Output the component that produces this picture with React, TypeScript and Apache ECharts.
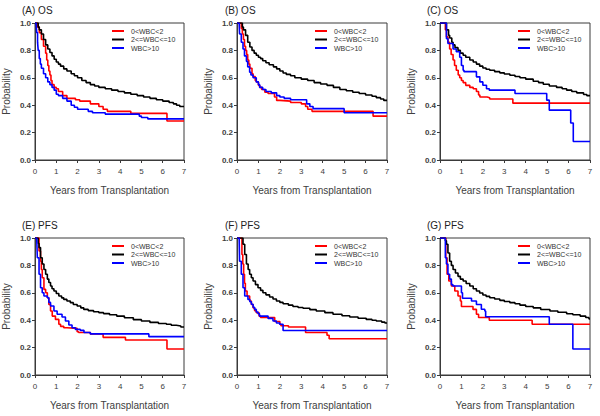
import React, { useEffect, useRef } from "react";
import * as echarts from "echarts";

type Pt = [number, number];

const seriesNames = ["0<WBC<2", "2<=WBC<=10", "WBC>10"];
const seriesColors = ["#ff0000", "#000000", "#0000ff"];
const panelTitles = ["(A) OS", "(B) OS", "(C) OS", "(E) PFS", "(F) PFS", "(G) PFS"];
const xTicks = [0, 1, 2, 3, 4, 5, 6, 7];
const yTicks = [0, 0.2, 0.4, 0.6, 0.8, 1.0];

const aRed: Pt[] = [[0,1],[0.12,0.97],[0.2,0.93],[0.3,0.88],[0.4,0.83],[0.5,0.78],[0.55,0.73],[0.6,0.69],[0.65,0.65],[0.7,0.62],[0.75,0.58],[0.8,0.55],[0.9,0.53],[1.0,0.52],[1.1,0.5],[1.3,0.47],[1.5,0.45],[1.9,0.44],[2.1,0.43],[2.6,0.41],[3.0,0.39],[3.2,0.37],[3.4,0.355],[4.5,0.34],[6.2,0.285],[7,0.285]];
const aBlack: Pt[] = [[0,1],[0.1,1],[0.15,0.97],[0.2,0.95],[0.3,0.92],[0.4,0.88],[0.5,0.84],[0.6,0.81],[0.7,0.785],[0.8,0.76],[0.9,0.735],[1.0,0.715],[1.1,0.7],[1.2,0.685],[1.35,0.665],[1.5,0.65],[1.7,0.63],[1.85,0.615],[2.0,0.6],[2.2,0.58],[2.4,0.565],[2.6,0.55],[2.8,0.54],[3.0,0.53],[3.3,0.52],[3.6,0.51],[3.9,0.5],[4.2,0.49],[4.5,0.48],[4.8,0.47],[5.1,0.46],[5.4,0.45],[5.7,0.44],[6.0,0.43],[6.3,0.42],[6.5,0.41],[6.65,0.4],[6.8,0.39],[7,0.39]];
const aBlue: Pt[] = [[0,1],[0.05,1],[0.08,0.93],[0.12,0.86],[0.15,0.8],[0.2,0.74],[0.25,0.7],[0.3,0.67],[0.4,0.63],[0.5,0.6],[0.6,0.57],[0.7,0.55],[0.8,0.53],[0.9,0.51],[1.0,0.48],[1.1,0.47],[1.3,0.45],[1.5,0.43],[1.7,0.4],[1.85,0.385],[2.0,0.37],[2.5,0.355],[2.7,0.345],[3.3,0.335],[4.9,0.32],[5.0,0.31],[5.3,0.3],[7,0.3]];

const bRed: Pt[] = [[0,1],[0.15,1],[0.2,0.96],[0.25,0.92],[0.3,0.88],[0.35,0.83],[0.4,0.8],[0.45,0.77],[0.5,0.73],[0.55,0.7],[0.6,0.67],[0.7,0.63],[0.75,0.61],[0.85,0.58],[0.9,0.57],[1.0,0.545],[1.06,0.53],[1.15,0.515],[1.3,0.495],[1.45,0.485],[1.75,0.46],[1.85,0.435],[2.0,0.43],[2.5,0.42],[3.0,0.41],[3.2,0.39],[3.3,0.37],[3.5,0.355],[6.35,0.32],[7,0.32]];
const bBlack: Pt[] = [[0,1],[0.2,1],[0.25,0.97],[0.3,0.95],[0.4,0.91],[0.5,0.86],[0.6,0.825],[0.7,0.8],[0.8,0.78],[0.9,0.765],[1.0,0.75],[1.1,0.74],[1.2,0.725],[1.35,0.71],[1.5,0.695],[1.7,0.68],[1.85,0.665],[2.0,0.65],[2.15,0.635],[2.3,0.625],[2.5,0.615],[2.7,0.6],[3.0,0.59],[3.3,0.58],[3.6,0.565],[3.9,0.555],[4.2,0.545],[4.5,0.53],[4.8,0.515],[5.1,0.505],[5.4,0.495],[5.7,0.485],[6.0,0.475],[6.3,0.465],[6.5,0.455],[6.7,0.445],[6.85,0.435],[7,0.435]];
const bBlue: Pt[] = [[0,1],[0.1,1],[0.12,0.92],[0.2,0.86],[0.28,0.81],[0.35,0.76],[0.44,0.72],[0.5,0.68],[0.59,0.64],[0.65,0.62],[0.75,0.6],[0.9,0.57],[1.0,0.55],[1.06,0.53],[1.2,0.515],[1.35,0.5],[1.6,0.49],[1.85,0.47],[2.0,0.46],[2.2,0.45],[2.5,0.44],[3.25,0.41],[3.4,0.39],[3.55,0.375],[5.0,0.345],[7,0.345]];

const cRed: Pt[] = [[0,1],[0.2,1],[0.25,0.95],[0.3,0.9],[0.37,0.86],[0.45,0.81],[0.52,0.77],[0.61,0.73],[0.68,0.69],[0.76,0.655],[0.85,0.62],[0.92,0.6],[1.0,0.58],[1.08,0.565],[1.2,0.545],[1.39,0.53],[1.55,0.52],[1.7,0.5],[1.8,0.475],[1.86,0.46],[2.2,0.455],[2.32,0.445],[3.4,0.415],[7,0.415]];
const cBlack: Pt[] = [[0,1],[0.2,1],[0.3,0.95],[0.4,0.91],[0.45,0.89],[0.55,0.86],[0.61,0.84],[0.7,0.82],[0.84,0.8],[0.95,0.78],[1.08,0.765],[1.2,0.75],[1.39,0.73],[1.55,0.715],[1.7,0.7],[1.85,0.685],[2.0,0.672],[2.15,0.662],[2.32,0.655],[2.55,0.645],[2.79,0.636],[3.0,0.628],[3.26,0.619],[3.5,0.61],[3.73,0.6],[4.0,0.59],[4.35,0.575],[4.6,0.565],[4.82,0.553],[5.1,0.54],[5.44,0.53],[5.7,0.52],[5.91,0.51],[6.15,0.5],[6.38,0.49],[6.7,0.478],[6.85,0.47],[7,0.47]];
const cBlue: Pt[] = [[0,1],[0.2,1],[0.3,0.886],[0.37,0.85],[0.61,0.81],[0.76,0.79],[0.92,0.75],[1.0,0.69],[1.08,0.655],[1.12,0.645],[1.7,0.607],[1.86,0.57],[2.0,0.546],[2.17,0.52],[2.3,0.51],[3.5,0.485],[4.98,0.437],[5.1,0.364],[6.1,0.27],[6.22,0.135],[7,0.135]];

const eRed: Pt[] = [[0,1],[0.1,1],[0.19,0.905],[0.26,0.83],[0.3,0.77],[0.34,0.71],[0.42,0.625],[0.5,0.6],[0.58,0.564],[0.65,0.515],[0.73,0.467],[0.81,0.43],[0.96,0.406],[1.12,0.37],[1.2,0.355],[1.35,0.345],[1.5,0.34],[1.98,0.316],[2.05,0.31],[2.6,0.3],[3.2,0.275],[4.25,0.255],[6.2,0.19],[7,0.19]];
const eBlack: Pt[] = [[0,1],[0.1,1],[0.15,0.96],[0.19,0.93],[0.26,0.856],[0.34,0.81],[0.42,0.77],[0.5,0.735],[0.58,0.7],[0.65,0.675],[0.73,0.65],[0.8,0.63],[0.89,0.613],[1.0,0.595],[1.12,0.577],[1.25,0.563],[1.35,0.552],[1.5,0.54],[1.66,0.528],[1.8,0.515],[1.98,0.504],[2.15,0.49],[2.29,0.479],[2.5,0.47],[2.75,0.462],[3.0,0.455],[3.22,0.448],[3.5,0.44],[3.84,0.43],[4.2,0.418],[4.62,0.404],[5.0,0.394],[5.4,0.384],[5.8,0.376],[6.17,0.37],[6.4,0.363],[6.64,0.358],[6.85,0.35],[7,0.35]];
const eBlue: Pt[] = [[0,1],[0.08,1],[0.11,0.856],[0.19,0.735],[0.26,0.637],[0.34,0.6],[0.42,0.577],[0.58,0.564],[0.65,0.53],[0.73,0.504],[0.89,0.467],[1.04,0.443],[1.27,0.423],[1.43,0.394],[1.59,0.365],[1.74,0.345],[1.9,0.333],[2.13,0.326],[2.3,0.31],[2.6,0.3],[5.35,0.28],[7,0.28]];

const fRed: Pt[] = [[0,1],[0.15,1],[0.23,0.88],[0.27,0.81],[0.31,0.735],[0.35,0.67],[0.39,0.613],[0.47,0.577],[0.59,0.54],[0.67,0.515],[0.75,0.49],[0.82,0.47],[0.9,0.455],[1.03,0.43],[1.1,0.42],[1.76,0.39],[2.0,0.37],[2.05,0.36],[2.4,0.35],[3.2,0.31],[4.2,0.29],[4.3,0.265],[7,0.265]];
const fBlack: Pt[] = [[0,1],[0.2,1],[0.28,0.954],[0.36,0.88],[0.44,0.81],[0.52,0.77],[0.59,0.735],[0.67,0.71],[0.75,0.686],[0.86,0.66],[0.98,0.637],[1.1,0.618],[1.21,0.6],[1.35,0.585],[1.52,0.569],[1.68,0.555],[1.84,0.54],[2.0,0.53],[2.15,0.52],[2.4,0.51],[2.61,0.5],[2.85,0.493],[3.08,0.487],[3.4,0.477],[3.7,0.467],[4.1,0.455],[4.48,0.443],[4.9,0.433],[5.26,0.423],[5.65,0.414],[6.03,0.406],[6.3,0.4],[6.5,0.394],[6.75,0.386],[6.9,0.38],[7,0.38]];
const fBlue: Pt[] = [[0,1],[0.1,1],[0.12,0.83],[0.2,0.735],[0.28,0.637],[0.36,0.577],[0.51,0.552],[0.6,0.535],[0.67,0.516],[0.75,0.495],[0.82,0.479],[0.9,0.46],[0.98,0.447],[1.05,0.43],[1.45,0.413],[1.68,0.394],[1.84,0.38],[1.99,0.37],[2.15,0.325],[7,0.325]];

const gRed: Pt[] = [[0,1],[0.2,1],[0.27,0.856],[0.33,0.735],[0.41,0.686],[0.53,0.65],[0.69,0.613],[0.84,0.577],[0.95,0.54],[1.0,0.5],[1.54,0.479],[1.7,0.443],[1.8,0.42],[2.3,0.4],[4.3,0.37],[7,0.37]];
const gBlack: Pt[] = [[0,1],[0.2,1],[0.25,0.98],[0.3,0.954],[0.37,0.89],[0.45,0.83],[0.53,0.8],[0.61,0.77],[0.72,0.745],[0.84,0.72],[0.95,0.7],[1.08,0.686],[1.22,0.668],[1.39,0.65],[1.55,0.63],[1.7,0.613],[1.85,0.598],[2.0,0.584],[2.15,0.574],[2.32,0.564],[2.55,0.555],[2.79,0.545],[3.0,0.537],[3.26,0.528],[3.5,0.52],[3.73,0.51],[4.0,0.5],[4.35,0.49],[4.7,0.478],[5.13,0.467],[5.5,0.458],[5.91,0.447],[6.2,0.44],[6.54,0.43],[6.8,0.42],[6.95,0.41],[7,0.41]];
const gBlue: Pt[] = [[0,1],[0.2,1],[0.25,0.856],[0.3,0.81],[0.37,0.735],[0.45,0.7],[0.53,0.66],[0.6,0.65],[1.0,0.6],[1.05,0.56],[1.47,0.54],[1.7,0.515],[1.93,0.48],[2.09,0.467],[2.13,0.425],[5.1,0.37],[6.2,0.19],[7,0.19]];

const panelData: Pt[][][] = [
  [aRed, aBlack, aBlue],
  [bRed, bBlack, bBlue],
  [cRed, cBlack, cBlue],
  [eRed, eBlack, eBlue],
  [fRed, fBlack, fBlue],
  [gRed, gBlack, gBlue],
];

const FONT = "'Liberation Sans', Arial, sans-serif";

export default function App() {
  const ref = useRef<HTMLDivElement>(null);
  useEffect(() => {
    if (!ref.current) return;
    const chart = echarts.init(ref.current, null, { renderer: "svg" });
    const lefts = [34, 237, 440];
    const tops = [23, 238];
    const W = 150;
    const H = 137;
    const titleLefts = [22, 225, 427];
    const titleTops = [5, 220];
    const axisColor = "#3a3a3a";
    const grid: any[] = [];
    const xAxis: any[] = [];
    const yAxis: any[] = [];
    const series: any[] = [];
    const title: any[] = [];
    const legend: any[] = [];
    for (let p = 0; p < 6; p++) {
      const col = p % 3;
      const row = Math.floor(p / 3);
      grid.push({
        left: lefts[col],
        top: tops[row],
        width: W,
        height: H,
        show: true,
        borderColor: axisColor,
        borderWidth: 1,
        backgroundColor: "transparent",
      });
      xAxis.push({
        gridIndex: p,
        type: "value",
        min: xTicks[0],
        max: xTicks[xTicks.length - 1],
        interval: 1,
        axisLine: { show: true, onZero: false, lineStyle: { color: axisColor, width: 1 } },
        axisTick: { show: true, length: 3, lineStyle: { color: axisColor } },
        axisLabel: { fontSize: 8, color: "#404040", margin: 7, fontFamily: FONT },
        splitLine: { show: false },
        name: "Years from Transplantation",
        nameLocation: "middle",
        nameGap: 25,
        nameTextStyle: { fontSize: 10, color: "#404040", fontFamily: FONT },
      });
      yAxis.push({
        gridIndex: p,
        type: "value",
        min: yTicks[0],
        max: yTicks[yTicks.length - 1],
        interval: 0.2,
        axisLine: { show: true, onZero: false, lineStyle: { color: axisColor, width: 1 } },
        axisTick: { show: true, length: 3, lineStyle: { color: axisColor } },
        axisLabel: {
          fontSize: 8,
          color: "#404040",
          margin: 4,
          fontFamily: FONT,
          fontWeight: "bold",
          formatter: (v: number) => v.toFixed(1),
        },
        splitLine: { show: false },
        name: "Probability",
        nameLocation: "middle",
        nameGap: 24,
        nameTextStyle: { fontSize: 10, color: "#404040", fontFamily: FONT },
      });
      title.push({
        text: panelTitles[p],
        left: titleLefts[col],
        top: titleTops[row],
        padding: 0,
        textStyle: { fontSize: 10, fontWeight: "normal", color: "#222", fontFamily: FONT },
      });
      legend.push({
        orient: "vertical",
        left: lefts[col] + 78,
        top: tops[row] + 4,
        itemWidth: 12,
        itemHeight: 2,
        itemGap: 0.5,
        padding: 0,
        icon: "rect",
        selectedMode: false,
        data: seriesNames,
        textStyle: { fontSize: 7, lineHeight: 8, color: "#333", fontFamily: FONT, padding: [0, 0, 0, 2] },
      });
      for (let s = 0; s < 3; s++) {
        series.push({
          name: seriesNames[s],
          type: "line",
          xAxisIndex: p,
          yAxisIndex: p,
          step: "end",
          showSymbol: false,
          symbol: "none",
          data: panelData[p][s],
          lineStyle: { color: seriesColors[s], width: 1.6 },
          itemStyle: { color: seriesColors[s] },
          z: 2 + s,
        });
      }
    }
    chart.setOption({
      animation: false,
      backgroundColor: "#ffffff",
      textStyle: { fontFamily: FONT },
      title,
      legend,
      grid,
      xAxis,
      yAxis,
      series,
    });
    return () => chart.dispose();
  }, []);
  return (
    <div
      ref={ref}
      style={{ position: "fixed", left: 0, top: 0, width: 600, height: 416 }}
    />
  );
}
